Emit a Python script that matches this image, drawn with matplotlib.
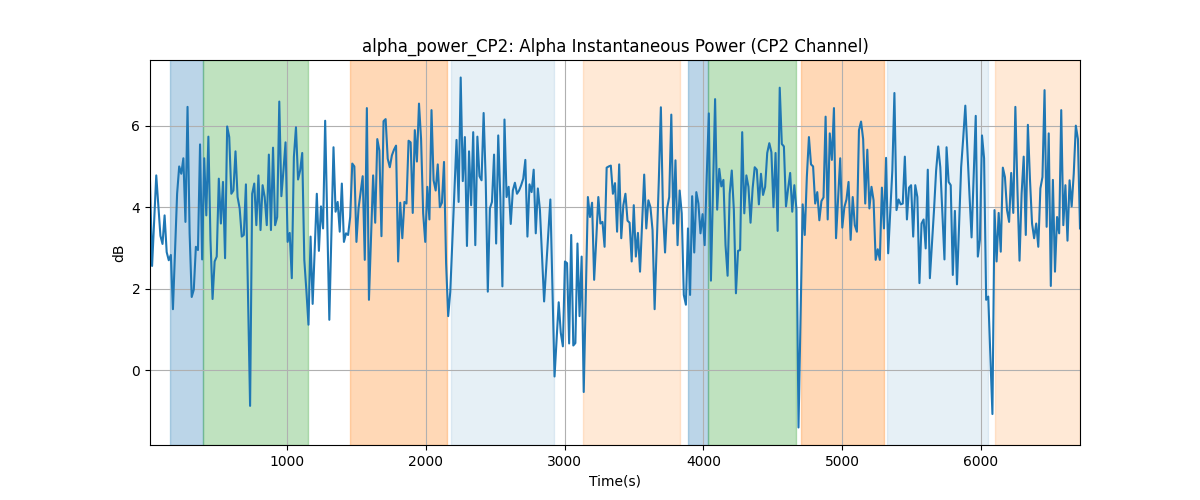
import numpy as np
import matplotlib.pyplot as plt

# alpha power, dB (~15 s steps)
alpha_db = [
    4.65, 2.56, 3.67, 4.78, 4.04, 3.3, 3.1, 3.8, 2.9, 2.7,
    2.83, 1.5, 2.9, 4.33, 5.0, 4.82, 5.2, 3.64, 6.46, 3.36,
    1.8, 1.98, 3.03, 2.95, 5.54, 2.72, 5.2, 3.8, 5.73, 3.2,
    1.75, 2.67, 2.79, 4.7, 3.6, 4.62, 2.75, 5.98, 5.72, 4.33,
    4.41, 5.37, 4.25, 3.97, 3.28,
    3.32, 4.56, 1.85, -0.87, 4.33, 4.58, 3.56, 4.78, 3.44, 4.54,
    4.25, 3.56, 5.29, 3.44, 5.46, 3.56, 3.76, 6.59, 4.27, 4.9,
    5.59, 3.15, 3.37, 2.26, 5.23, 5.96, 4.68, 4.9, 5.33, 2.71,
    1.95, 1.12, 3.28, 1.63, 3.0, 4.33, 2.93, 4.02, 3.48, 6.12,
    3.7, 1.24, 3.35, 5.47,
    3.89, 4.13, 3.4, 4.58, 3.15, 3.36, 3.32, 3.76, 5.07, 5.0,
    3.15, 3.97, 4.37, 4.76, 2.71, 6.43, 1.73, 3.25, 4.78, 3.62,
    5.67, 5.39, 3.29, 6.11, 6.16, 5.19, 4.98, 5.27, 5.41, 5.51,
    2.67, 4.11, 3.24, 4.13, 4.09, 5.63, 5.59, 3.86, 5.89, 5.12,
    6.54, 5.67,
    3.85, 3.15, 4.5, 3.7, 6.38, 4.66, 4.41, 5.05, 4.0, 4.11,
    5.11, 2.63, 1.33, 1.93, 3.17, 4.41, 5.65, 4.13, 7.18, 4.64,
    5.72, 3.05, 5.37, 4.05, 5.84, 3.07, 5.73, 4.76, 4.66, 6.31,
    4.66, 1.93, 3.97, 4.13, 5.29, 3.11, 5.76, 4.25, 2.06, 6.15,
    4.25, 4.5, 3.59, 4.41,
    4.6, 4.33, 4.41, 4.54, 4.7, 5.16, 3.28, 4.56, 4.37, 4.92,
    3.36, 4.46, 3.93, 2.83, 1.69, 2.5, 3.35, 4.19, 2.0, -0.15,
    0.75, 1.67, 0.92, 0.59, 2.67, 2.63, 0.66, 3.32, 0.61, 0.67,
    3.11, 1.33, 2.79, -0.53, 1.9, 4.25, 3.76, 4.11, 2.22, 3.2,
    4.25, 3.6, 3.64, 3.03,
    4.97, 5.0, 5.02, 4.33, 4.59, 3.4, 5.05, 3.24, 4.05, 4.33,
    3.67, 3.62, 2.67, 4.05, 2.79, 3.37, 2.42, 3.6, 4.8, 3.48,
    4.17, 4.0, 3.44, 1.5, 3.05, 4.63, 6.45, 3.93, 2.89, 3.97,
    4.25, 6.27, 3.6, 5.15, 3.07, 4.41, 3.85, 1.85, 1.61, 3.48,
    1.85, 4.27, 2.89,
    4.37, 4.09, 3.36, 3.83, 3.07, 4.78, 6.3, 2.2, 4.4, 6.65,
    3.94, 4.94, 4.51, 4.67, 3.07, 2.32, 4.33, 4.9, 3.93, 1.89,
    2.93, 2.95, 5.84, 3.85, 4.78, 4.5, 3.62, 4.46, 4.98, 4.92,
    4.07, 4.82, 4.3, 4.5, 5.33, 5.57, 5.35, 4.0, 5.33, 3.42,
    6.93, 5.55, 5.49,
    4.02, 4.45, 4.84, 3.89, 4.54, 3.95, -1.4, 1.35, 4.07, 3.32,
    4.74, 5.72, 5.05, 5.0, 4.09, 4.37, 3.68, 4.15, 4.24, 6.22,
    3.7, 5.81, 5.16, 6.43, 3.24, 4.2, 5.2, 3.5, 4.0, 4.19,
    4.62, 3.2, 4.25, 3.56, 3.4, 5.89, 6.1, 5.67, 4.09, 5.41,
    3.97, 4.5, 4.17, 2.71,
    2.97, 2.71, 4.48, 3.48, 5.21, 2.87, 3.9, 4.9, 6.8, 3.93,
    4.19, 4.07, 4.09, 5.24, 3.7, 4.48, 4.54, 3.28, 4.54, 4.25,
    2.14, 3.6, 3.7, 2.99, 4.92, 2.26, 3.1, 3.94, 4.9, 5.49,
    4.98, 3.85, 2.72, 5.47, 4.62, 4.54, 2.34, 3.91, 2.11, 3.55,
    4.98, 5.7, 6.49,
    5.39, 4.3, 3.26, 4.75, 6.24, 2.79, 3.2, 5.76, 5.2, 1.73,
    1.81, 0.4, -1.07, 3.93, 2.67, 3.86, 2.91, 4.97, 4.74, 3.93,
    3.64, 4.84, 3.86, 6.46, 4.43, 2.69, 4.33, 5.24, 3.32, 6.02,
    4.69, 3.6, 3.24, 3.6, 3.03, 4.46, 4.74, 6.87, 3.52, 5.81,
    2.07, 4.67, 2.42,
    3.76, 3.36, 6.38, 3.56, 4.54, 3.18, 4.66, 4.02, 4.82, 6.0,
    5.67, 3.48,
]
t_start, t_end = 10, 6716

# stage segments (start, end, colour, alpha)
seg_start = [157, 390, 1452, 2181, 3135, 3889, 4032, 4702, 5322, 6103]
seg_end = [390, 1147, 2149, 2921, 3832, 4032, 4668, 5303, 6051, 6716]
seg_color = ["C0", "C2", "C1", "C0", "C1",
             "C0", "C2", "C1", "C0", "C1"]
seg_alpha = [0.3, 0.3, 0.3, 0.11, 0.17, 0.3, 0.3, 0.3, 0.11, 0.17]

time_s = np.linspace(t_start, t_end, len(alpha_db))

fig, ax = plt.subplots(figsize=(12, 5))

for s, e, c, a in zip(seg_start, seg_end, seg_color, seg_alpha):
    ax.axvspan(s, e, color=c, alpha=a)

ax.plot(time_s, alpha_db, color="C0", linewidth=1.5)

ax.set_xlim(t_start, t_end)
ax.grid(True)
ax.set_title("alpha_power_CP2: Alpha Instantaneous Power (CP2 Channel)")
ax.set_xlabel("Time(s)")
ax.set_ylabel("dB")

plt.savefig("out.png", dpi=100)
